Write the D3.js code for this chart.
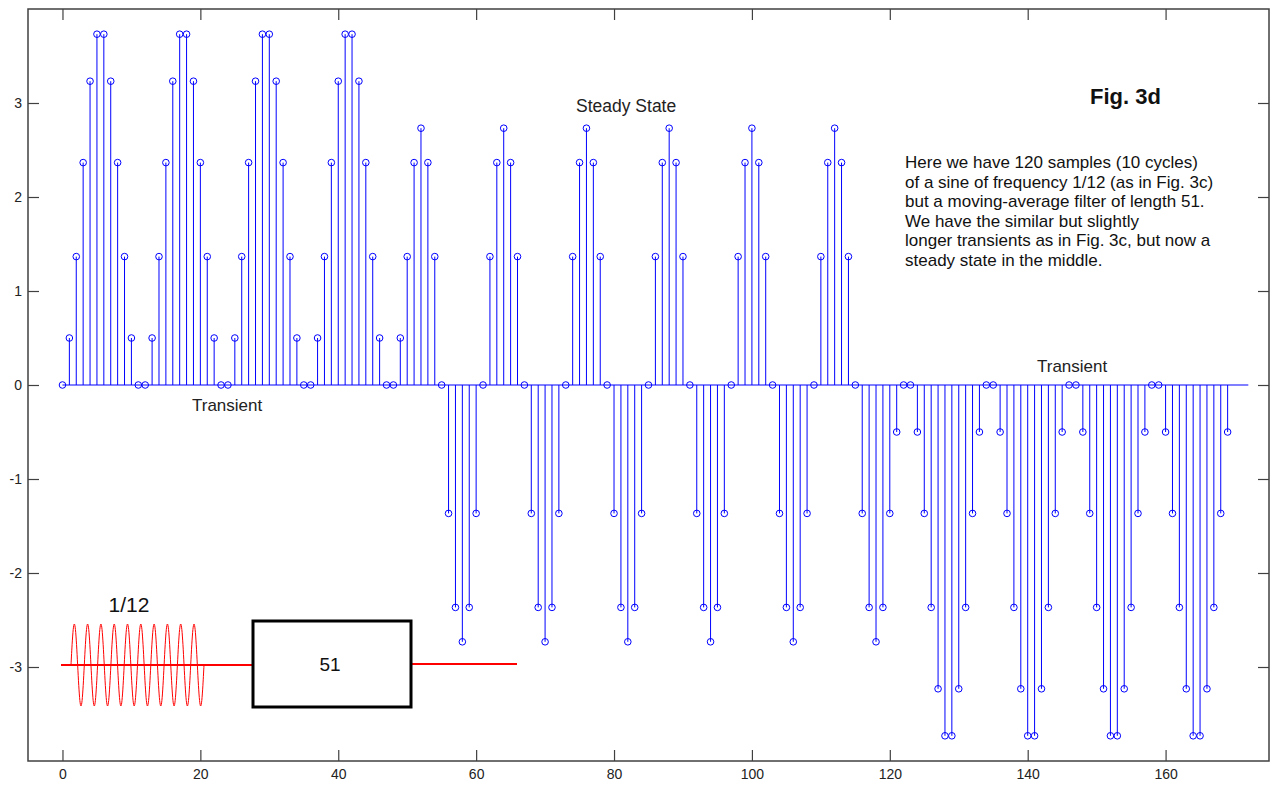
<!DOCTYPE html>
<html>
<head>
<meta charset="utf-8">
<script src="https://cdn.jsdelivr.net/npm/d3@7"></script>
<style>
  body { margin: 0; background: #fff; }
  svg { font-family: "Liberation Sans", Arial, sans-serif; }
</style>
</head>
<body>
<div class="container"></div>
<script>
// output of the length-51 moving sum, samples 0..169
const outputValues = [
  0, 0.5, 1.366, 2.366, 3.232, 3.732, 3.732, 3.232, 2.366, 1.366, 0.5, 0,
  0, 0.5, 1.366, 2.366, 3.232, 3.732, 3.732, 3.232, 2.366, 1.366, 0.5, 0,
  0, 0.5, 1.366, 2.366, 3.232, 3.732, 3.732, 3.232, 2.366, 1.366, 0.5, 0,
  0, 0.5, 1.366, 2.366, 3.232, 3.732, 3.732, 3.232, 2.366, 1.366, 0.5, 0,
  0, 0.5, 1.366,
  2.366, 2.732, 2.366, 1.366, 0, -1.366, -2.366, -2.732, -2.366, -1.366, 0, 1.366,
  2.366, 2.732, 2.366, 1.366, 0, -1.366, -2.366, -2.732, -2.366, -1.366, 0, 1.366,
  2.366, 2.732, 2.366, 1.366, 0, -1.366, -2.366, -2.732, -2.366, -1.366, 0, 1.366,
  2.366, 2.732, 2.366, 1.366, 0, -1.366, -2.366, -2.732, -2.366, -1.366, 0, 1.366,
  2.366, 2.732, 2.366, 1.366, 0, -1.366, -2.366, -2.732, -2.366, -1.366, 0, 1.366,
  2.366, 2.732, 2.366, 1.366, 0, -1.366, -2.366, -2.732, -2.366,
  -1.366, -0.5,
  0, 0, -0.5, -1.366, -2.366, -3.232, -3.732, -3.732, -3.232, -2.366, -1.366, -0.5,
  0, 0, -0.5, -1.366, -2.366, -3.232, -3.732, -3.732, -3.232, -2.366, -1.366, -0.5,
  0, 0, -0.5, -1.366, -2.366, -3.232, -3.732, -3.732, -3.232, -2.366, -1.366, -0.5,
  0, 0, -0.5, -1.366, -2.366, -3.232, -3.732, -3.732, -3.232, -2.366, -1.366, -0.5
];
// one cycle of the input sine (period 12), shown 10 times in the little diagram
const inputCycle = [0, 0.5, 0.866, 1, 0.866, 0.5, 0, -0.5, -0.866, -1, -0.866, -0.5];
const inputCycles = 10;
const xTicks = [0, 20, 40, 60, 80, 100, 120, 140, 160];
const yTicks = [-3, -2, -1, 0, 1, 2, 3];
const noteLines = [
  "Here we have 120 samples (10 cycles)",
  "of a sine of frequency 1/12 (as in Fig. 3c)",
  "but a moving-average filter of length 51.",
  "We have the similar but slightly",
  "longer transients as in Fig. 3c, but now a",
  "steady state in the middle."
];

const W = 1270, H = 785;
const box = { left: 28, top: 9, right: 1269, bottom: 761 };

let svg = d3.select(".container").append("svg").attr("width", W).attr("height", H);

let x = d3.scaleLinear().domain([-5, 175]).range([box.left, box.right]);
let y = d3.scaleLinear().domain([-4, 4]).range([box.bottom, box.top]);

//Stems
const blue = "#0000ff";
svg.append("line").attr("x1", x(0)).attr("x2", x(172)).attr("y1", y(0)).attr("y2", y(0))
  .attr("stroke", blue).attr("stroke-width", 1);

svg.selectAll(".stem").data(outputValues).enter().append("line").attr("class", "stem")
  .attr("x1", (d, i) => x(i)).attr("x2", (d, i) => x(i))
  .attr("y1", y(0)).attr("y2", d => y(d))
  .attr("stroke", blue).attr("stroke-width", 1);

svg.selectAll(".dot").data(outputValues).enter().append("circle").attr("class", "dot")
  .attr("cx", (d, i) => x(i)).attr("cy", d => y(d)).attr("r", 3.3)
  .attr("fill", "none").attr("stroke", blue).attr("stroke-width", 1);

//Axes: ticks pointing inward on all four sides, plain hyphen minus
const frame = "#404040";
const tk = 11;
const plain = d => String(d);
let axB = svg.append("g").attr("transform", "translate(0," + box.bottom + ")")
  .call(d3.axisBottom(x).tickValues(xTicks).tickSizeInner(-tk).tickSizeOuter(0).tickFormat(plain));
let axT = svg.append("g").attr("transform", "translate(0," + box.top + ")")
  .call(d3.axisTop(x).tickValues(xTicks).tickSizeInner(-tk).tickSizeOuter(0).tickFormat(""));
let axL = svg.append("g").attr("transform", "translate(" + box.left + ",0)")
  .call(d3.axisLeft(y).tickValues(yTicks).tickSizeInner(-tk).tickSizeOuter(0).tickFormat(plain));
let axR = svg.append("g").attr("transform", "translate(" + box.right + ",0)")
  .call(d3.axisRight(y).tickValues(yTicks).tickSizeInner(-tk).tickSizeOuter(0).tickFormat(""));

[axB, axT, axL, axR].forEach(a => {
  a.select(".domain").remove();
  a.selectAll(".tick line").attr("stroke", frame).attr("stroke-width", 1.2);
  a.selectAll(".tick text").attr("fill", "#222").style("font-size", "14px");
});
axL.selectAll(".tick text").attr("x", -6);
axB.selectAll(".tick text").attr("dy", "0.71em").attr("y", 8);

svg.append("rect").attr("x", box.left).attr("y", box.top)
  .attr("width", box.right - box.left).attr("height", box.bottom - box.top)
  .attr("fill", "none").attr("stroke", frame).attr("stroke-width", 1.5);

//Labels
svg.append("text").attr("x", 1090).attr("y", 104).style("font-size", "22px").style("font-weight", "bold")
  .attr("fill", "#111").text("Fig. 3d");
svg.append("text").attr("x", 576).attr("y", 112).style("font-size", "17.5px").attr("fill", "#222").text("Steady State");
svg.append("text").attr("x", 192).attr("y", 411).style("font-size", "17px").attr("fill", "#222").text("Transient");
svg.append("text").attr("x", 1037).attr("y", 372).style("font-size", "17px").attr("fill", "#222").text("Transient");

svg.append("g").selectAll("text").data(noteLines).enter().append("text")
  .attr("x", 905).attr("y", (d, i) => 168 + i * 19.6)
  .style("font-size", "17px").attr("fill", "#111").text(d => d);

//Filter diagram
const red = "#ff0000";
const midY = 665;
let inputSamples = [];
for (let c = 0; c < inputCycles; c++) inputSamples = inputSamples.concat(inputCycle);
inputSamples.push(0);

let ix = d3.scaleLinear().domain([0, inputSamples.length - 1]).range([71, 204]);
let iy = d3.scaleLinear().domain([-1, 1]).range([midY + 41, midY - 41]);

svg.append("line").attr("x1", 61).attr("x2", 252).attr("y1", midY).attr("y2", midY)
  .attr("stroke", red).attr("stroke-width", 2);
svg.append("path").datum(inputSamples)
  .attr("d", d3.line().x((d, i) => ix(i)).y(d => iy(d)).curve(d3.curveCardinal))
  .attr("fill", "none").attr("stroke", red).attr("stroke-width", 1);
svg.append("line").attr("x1", 412).attr("x2", 517).attr("y1", 664).attr("y2", 664)
  .attr("stroke", red).attr("stroke-width", 2);
svg.append("rect").attr("x", 253).attr("y", 621).attr("width", 158).attr("height", 86)
  .attr("fill", "#fff").attr("stroke", "#000").attr("stroke-width", 3);
svg.append("text").attr("x", 330).attr("y", 671).attr("text-anchor", "middle")
  .style("font-size", "19px").attr("fill", "#111").text("51");
svg.append("text").attr("x", 129).attr("y", 612).attr("text-anchor", "middle")
  .style("font-size", "21px").attr("fill", "#111").text("1/12");
</script>
</body>
</html>
